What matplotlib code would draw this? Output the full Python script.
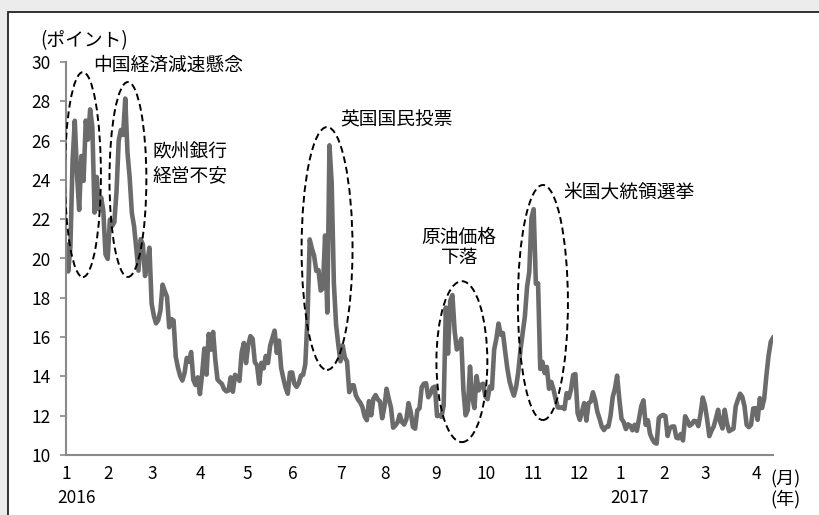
# VIX daily close, Jan 2016 - Apr 2017, with event annotations
import numpy as np
import pandas as pd
import matplotlib
matplotlib.use("Agg")
import matplotlib.pyplot as plt
from matplotlib.patches import Ellipse, Rectangle
from matplotlib.transforms import ScaledTranslation

plt.rcParams["font.family"] = ["Noto Sans CJK JP", "DejaVu Sans"]

# US market holidays in the range
holidays = ["2016-01-18", "2016-02-15", "2016-03-25", "2016-05-30", "2016-07-04",
            "2016-09-05", "2016-11-24", "2016-12-26", "2017-01-02", "2017-01-16",
            "2017-02-20"]

vix = [
    # 2016-01
    20.70, 19.34, 20.59, 24.99, 27.01, 24.30, 22.47, 25.22, 23.95, 27.02,
    26.05, 27.59, 26.69, 22.34, 24.15, 22.50, 23.11, 22.42, 20.20,
    # 2016-02
    19.98, 21.98, 21.65, 21.84, 23.38, 26.00, 26.54, 26.29, 28.14, 25.40,
    24.11, 22.31, 21.64, 20.53, 19.38, 20.98, 20.72, 19.11, 19.81, 20.55,
    # 2016-03
    17.70, 17.09, 16.70, 16.86, 17.35, 18.67, 18.34, 18.05, 16.50, 16.92,
    16.84, 14.99, 14.44, 14.02, 13.79, 14.17, 14.94, 14.74, 15.24, 13.82,
    13.56, 13.95,
    # 2016-04
    13.10, 14.12, 15.42, 14.09, 16.16, 15.36, 16.26, 14.85, 13.84, 13.72,
    13.62, 13.35, 13.24, 13.28, 13.95, 13.22, 14.08, 13.96, 13.77, 15.22,
    15.70,
    # 2016-05
    14.68, 15.60, 16.05, 15.91, 14.72, 14.57, 13.63, 14.69, 14.41, 15.04,
    14.68, 15.57, 15.95, 16.33, 15.20, 15.82, 14.42, 13.90, 13.43, 13.12,
    14.19,
    # 2016-06
    14.20, 13.63, 13.47, 13.65, 14.05, 14.08, 14.64, 17.03, 20.97, 20.50,
    20.14, 19.37, 19.41, 18.37, 18.48, 21.17, 17.25, 25.76, 23.85, 18.75,
    16.64, 15.63,
    # 2016-07
    14.77, 15.58, 14.96, 14.76, 13.20, 13.54, 13.55, 13.04, 12.82, 12.67,
    12.44, 11.97, 11.77, 12.74, 12.02, 12.87, 13.05, 12.83, 12.72, 11.87,
    # 2016-08
    12.44, 13.37, 12.86, 12.42, 11.39, 11.50, 11.66, 12.05, 11.68, 11.55,
    11.81, 12.64, 12.19, 11.43, 11.34, 12.27, 12.38, 13.45, 13.63, 13.65,
    12.94, 13.12, 13.42,
    # 2016-09
    13.48, 11.98, 12.02, 11.94, 12.51, 17.50, 15.16, 17.85, 18.14, 16.30,
    15.37, 15.53, 15.92, 13.30, 12.02, 12.29, 14.50, 12.96, 12.39, 14.02,
    13.29,
    # 2016-10
    13.57, 13.63, 12.99, 12.84, 13.48, 13.38, 15.36, 15.91, 16.69, 16.12,
    16.21, 15.28, 14.41, 13.75, 13.34, 13.02, 13.46, 14.24, 15.36, 16.19,
    17.06,
    # 2016-11
    18.56, 19.32, 22.08, 22.51, 18.71, 18.74, 14.38, 14.74, 14.17, 14.48,
    13.37, 13.72, 13.35, 12.85, 12.42, 12.41, 12.43, 12.34, 13.15, 12.90,
    13.33,
    # 2016-12
    14.07, 14.12, 12.14, 11.79, 12.22, 12.64, 11.75, 12.64, 12.72, 13.19,
    12.79, 12.20, 11.85, 11.45, 11.27, 11.43, 11.44, 11.99, 12.95, 13.37,
    14.04,
    # 2017-01
    12.85, 11.85, 11.67, 11.32, 11.56, 11.49, 11.26, 11.54, 11.23, 11.87,
    12.48, 12.78, 11.54, 11.77, 11.07, 10.81, 10.63, 10.58, 11.88, 11.99,
    # 2017-02
    12.04, 11.98, 10.97, 11.37, 11.45, 11.45, 10.88, 10.85, 11.07, 10.74,
    11.97, 11.76, 11.49, 11.57, 11.74, 11.71, 11.47, 12.09, 12.92,
    # 2017-03
    12.54, 11.81, 10.96, 11.24, 11.45, 11.86, 12.30, 11.66, 11.35, 12.30,
    11.63, 11.21, 11.28, 11.34, 12.47, 12.81, 13.12, 12.96, 12.50, 11.53,
    11.42, 11.54, 12.37,
    # 2017-04
    12.38, 11.79, 12.89, 12.39, 12.87, 14.05, 15.07, 15.77, 15.96,
]

dates = pd.bdate_range("2016-01-04", "2017-04-13", freq="C", holidays=holidays)
assert len(dates) == len(vix), (len(dates), len(vix))
x = np.arange(len(vix))

# first trading day of each month
month_starts = [0] + [i for i in range(1, len(dates)) if dates[i].month != dates[i - 1].month]
month_labels = [str(dates[i].month) for i in month_starts]
year_starts = [i for i in month_starts if dates[i].month == 1]
year_labels = [str(dates[i].year) for i in year_starts]

# event circles: (center x, center y, width, height) in index / points
events = [
    (7.7, 24.27, 16.4, 10.43),
    (28.2, 24.02, 16.8, 9.92),
    (118.9, 20.51, 23.2, 12.36),
    (180.3, 14.75, 23.2, 8.19),
    (217.2, 17.76, 22.8, 11.96),
]

fig = plt.figure(figsize=(8.2, 5.15), dpi=100)
fig.patch.set_facecolor("#ececec")
# white panel with dark frame
fig.patches.append(Rectangle((8 / 820, -0.1), 1.2, 1.1 - 12 / 515, transform=fig.transFigure,
                             facecolor="white", edgecolor="#222222", linewidth=1.3, zorder=-5))

ax = fig.add_axes([66 / 820, 1 - 455 / 515, (773 - 66) / 820, (455 - 62) / 515])
ax.set_facecolor("none")
ax.plot(x, vix, color="#6b6b6b", linewidth=3.3, solid_joinstyle="round")

ax.set_xlim(0, len(vix) - 1)
ax.set_ylim(10, 30)
ax.set_yticks(range(10, 31, 2))
for s in ["top", "right"]:
    ax.spines[s].set_visible(False)
for s in ["left", "bottom"]:
    ax.spines[s].set_color("#8a8a8a")
    ax.spines[s].set_linewidth(1.5)
ax.tick_params(axis="y", length=4, width=1.2, color="#8a8a8a", pad=7, labelsize=12.5)
ax.tick_params(axis="x", length=0, pad=7.5, labelsize=12.5)

ax.set_xticks(month_starts, month_labels)
shift = ScaledTranslation(-4 / 100, 0, fig.dpi_scale_trans)
for lbl in ax.get_xticklabels():
    lbl.set_ha("left")
    lbl.set_transform(lbl.get_transform() + shift)

for xi, yl in zip(year_starts, year_labels):
    ax.annotate(yl, xy=(xi, 0), xycoords=("data", "axes fraction"),
                xytext=(7.5, -31), textcoords="offset points",
                ha="center", va="center", fontsize=12.5)

for cx, cy, w, h in events:
    ax.add_patch(Ellipse((cx, cy), w, h, fill=False, edgecolor="black",
                         linestyle=(0, (3.5, 2)), linewidth=1.4, zorder=3))

fs = 13.5
ax.text(12.3, 29.85, "中国経済減速懸念", fontsize=fs, ha="left", va="center")
ax.text(39.6, 25.45, "欧州銀行", fontsize=fs, ha="left", va="center")
ax.text(39.6, 24.2, "経営不安", fontsize=fs, ha="left", va="center")
ax.text(124.8, 27.05, "英国国民投票", fontsize=fs, ha="left", va="center")
ax.text(178.7, 21.09, "原油価格", fontsize=fs, ha="center", va="center")
ax.text(179.4, 20.03, "下落", fontsize=fs, ha="center", va="center")
ax.text(226.3, 23.38, "米国大統領選挙", fontsize=fs, ha="left", va="center")

fig.text(40 / 820, 1 - 41 / 515, "(ポイント)", fontsize=13.5, ha="left", va="center")
fig.text(770 / 820, 1 - 479 / 515, "(月)", fontsize=13, ha="left", va="center")
fig.text(770 / 820, 1 - 499 / 515, "(年)", fontsize=13, ha="left", va="center")

fig.savefig("out.png", dpi=100)
